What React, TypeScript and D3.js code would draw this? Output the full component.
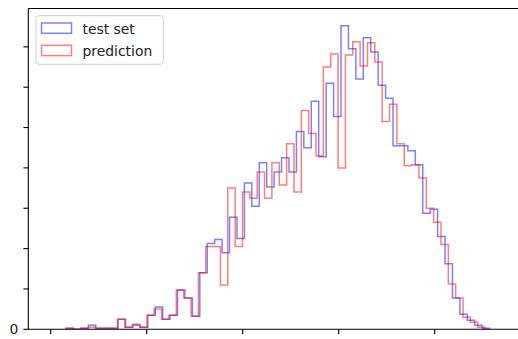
import React from "react";
import * as d3 from "d3";

// x tick positions (labels hidden in the reference)
const xTicks = [0, 1, 2, 3, 4];
// y tick positions (only "0" is labelled)
const yTicks = [0, 40, 80, 120, 160, 200, 240, 280];
const yTickLabels = ["0", "", "", "", "", "", "", ""];

const seriesNames = ["test set", "prediction"];
const seriesColors = ["blue", "red"];

// bin ranges (data units) – 57 bins each
const blueRange = [0.16, 4.572];
const redRange = [0.16, 4.525];

const blueCounts = [
  1, 0, 1, 4, 1, 1, 1, 10, 2, 4, 2, 14, 22, 10, 14, 39, 31, 13, 56, 85,
  89, 76, 111, 90, 145, 122, 165, 141, 156, 170, 156, 196, 180, 226, 171, 244,
  211, 301, 278, 248, 289, 275, 242, 229, 182, 182, 177, 163, 115, 119, 92,
  65, 31, 15, 9, 4, 1,
];
const redCounts = [
  1, 0, 1, 2, 1, 1, 1, 10, 2, 5, 2, 14, 20, 10, 14, 39, 31, 13, 56, 82,
  82, 44, 140, 82, 136, 130, 156, 130, 165, 143, 184, 136, 217, 194, 172, 260,
  273, 160, 272, 285, 261, 284, 265, 206, 223, 184, 162, 163, 150, 120, 106,
  84, 45, 31, 12, 7, 2,
];

const W = 518;
const H = 339;
const left = 28.3;
const right = 525;
const top = 8.5;
const bottom = 329.3;

export default function App() {
  const x = d3
    .scaleLinear()
    .domain([(left - 50.7) / 96, (right - 50.7) / 96])
    .range([left, right]);
  const y = d3.scaleLinear().domain([0, 318]).range([bottom, top]);

  const stepPath = (counts: number[], range: number[]) => {
    const n = counts.length;
    const edges = d3.range(n + 1).map((i) => range[0] + (i * (range[1] - range[0])) / n);
    const pts: [number, number][] = [[edges[0], 0]];
    counts.forEach((c, i) => {
      pts.push([edges[i], c]);
      pts.push([edges[i + 1], c]);
    });
    pts.push([edges[n], 0]);
    const line = d3
      .line<[number, number]>()
      .x((d) => x(d[0]))
      .y((d) => y(d[1]));
    return line(pts) || "";
  };

  const series = [
    { counts: blueCounts, range: blueRange },
    { counts: redCounts, range: redRange },
  ];

  const font = "'DejaVu Sans', sans-serif";

  return (
    <div style={{ position: "absolute", left: 0, top: 0 }}>
      <svg width={W} height={H} style={{ display: "block", background: "#fff" }}>
        <defs>
          <clipPath id="plotclip">
            <rect x={left} y={top} width={right - left} height={bottom - top} />
          </clipPath>
        </defs>
        <g clipPath="url(#plotclip)">
          {series.map((s, i) => (
            <path
              key={i}
              d={stepPath(s.counts, s.range)}
              fill="none"
              stroke={seriesColors[i]}
              strokeOpacity={0.5}
              strokeWidth={1.5}
              strokeLinejoin="miter"
            />
          ))}
        </g>
        {/* spines */}
        <line x1={left} x2={left} y1={top} y2={bottom} stroke="#000" strokeWidth={1.1} />
        <line x1={left} x2={right} y1={bottom} y2={bottom} stroke="#000" strokeWidth={1.1} />
        <line x1={left} x2={right} y1={top} y2={top} stroke="#000" strokeWidth={1.1} />
        {/* x ticks */}
        {xTicks.map((t) => (
          <line key={t} x1={x(t)} x2={x(t)} y1={bottom} y2={bottom + 4.9} stroke="#000" strokeWidth={1.1} />
        ))}
        {/* y ticks */}
        {yTicks.map((t, i) => (
          <g key={t}>
            <line x1={left - 4.9} x2={left} y1={y(t)} y2={y(t)} stroke="#000" strokeWidth={1.1} />
            {yTickLabels[i] && (
              <text
                x={left - 10}
                y={y(t) + 5}
                textAnchor="end"
                fontFamily={font}
                fontSize={13.9}
                fill="#222"
              >
                {yTickLabels[i]}
              </text>
            )}
          </g>
        ))}
        {/* legend */}
        <rect
          x={36}
          y={15.7}
          width={127.3}
          height={48.6}
          rx={3}
          fill="#fff"
          fillOpacity={0.8}
          stroke="#d0d0d0"
          strokeWidth={1}
        />
        {seriesNames.map((name, i) => (
          <g key={name}>
            <rect
              x={41.5}
              y={23 + i * 22.3}
              width={30}
              height={10.3}
              fill="none"
              stroke={seriesColors[i]}
              strokeOpacity={0.5}
              strokeWidth={1.5}
            />
            <text x={82.5} y={34 + i * 21.6} fontFamily={font} fontSize={13.9} fill="#222">
              {name}
            </text>
          </g>
        ))}
      </svg>
    </div>
  );
}
